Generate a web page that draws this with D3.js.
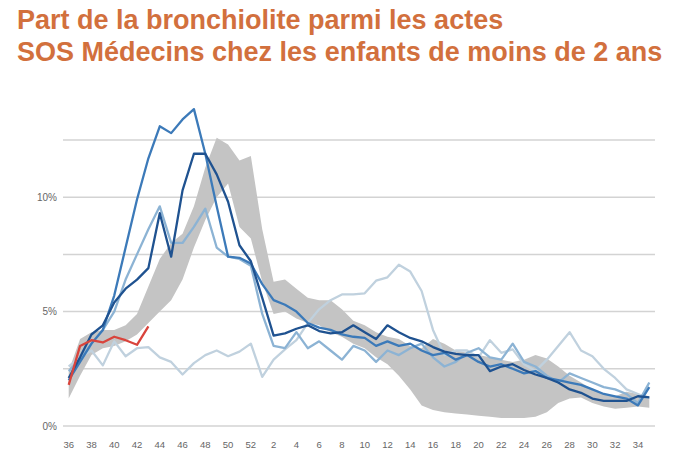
<!DOCTYPE html>
<html>
<head>
<meta charset="utf-8">
<script src="https://cdn.jsdelivr.net/npm/d3@7"></script>
<style>
  html, body { margin: 0; padding: 0; background: #ffffff; }
  svg { display: block; }
</style>
</head>
<body>
<svg id="chart" width="700" height="450"></svg>
<script>
// ---- Data ----
const titleLines = ["Part de la bronchiolite parmi les actes", "SOS Médecins chez les enfants de moins de 2 ans"];
const weeks = [36,37,38,39,40,41,42,43,44,45,46,47,48,49,50,51,52,
  1,2,3,4,5,6,7,8,9,10,11,12,13,14,15,16,17,18,19,20,21,22,23,24,25,26,27,28,29,30,31,32,33,34,35];
const weekTicks = [36,38,40,42,44,46,48,50,52,2,4,6,8,10,12,14,16,18,20,22,24,26,28,30,32,34];
const yGridValues = [0, 2.5, 5, 7.5, 10, 12.5];
const yLabelValues = [0, 5, 10];

// historical range (min / max)
const bandMax = [2.4,3.8,4.1,4.2,4.2,4.4,4.9,6.1,7.3,8.0,8.4,9.6,11.3,12.6,12.3,11.6,11.8,
  8.6,6.3,6.4,6.0,5.6,5.5,5.5,5.1,4.6,4.4,4.1,3.9,3.8,3.5,3.4,3.8,3.6,3.3,3.2,3.1,3.0,2.9,2.8,2.9,3.1,2.95,2.6,2.2,1.9,1.6,1.4,1.3,1.5,1.4,1.3];
const bandMin = [1.2,2.2,3.1,3.4,3.5,3.7,4.0,4.5,5.0,5.5,6.4,7.8,9.0,10.0,10.6,8.7,8.2,
  6.3,4.9,5.0,4.7,4.5,4.4,4.1,3.9,3.6,3.4,3.0,2.7,2.2,1.6,0.9,0.7,0.6,0.55,0.5,0.45,0.4,0.35,0.35,0.35,0.4,0.6,1.0,1.2,1.25,1.0,0.85,0.75,0.8,0.85,0.8];

const seasonPale = [2.6,3.0,3.3,2.65,3.7,3.05,3.4,3.45,3.0,2.8,2.25,2.75,3.1,3.3,3.05,3.25,3.6,
  2.15,2.9,3.35,3.75,4.5,5.1,5.5,5.75,5.75,5.8,6.35,6.5,7.05,6.75,5.9,4.2,3.1,
  3.3,3.3,3.0,3.75,3.2,3.35,2.7,2.4,2.9,3.5,4.1,3.3,3.05,2.5,2.1,1.6,1.4,1.2];
const seasonLight = [2.4,2.9,3.6,4.2,5.0,6.4,7.5,8.6,9.6,8.0,8.0,8.7,9.5,7.8,7.4,7.3,7.0,
  4.9,3.5,3.4,4.1,3.4,3.7,3.3,2.9,3.5,3.3,2.8,3.3,3.1,3.4,3.6,3.0,2.6,2.8,
  3.2,3.4,3.0,2.9,3.6,2.8,2.6,2.2,1.9,2.3,2.1,1.9,1.7,1.6,1.4,1.0,1.9];
const seasonMedium = [2.0,2.8,3.6,4.2,5.7,7.8,9.9,11.7,13.1,12.8,13.4,13.85,11.9,9.6,7.4,7.35,7.1,
  6.2,5.5,5.3,5.0,4.5,4.3,4.2,4.0,3.9,3.85,3.5,3.7,3.5,3.6,3.3,3.1,3.2,2.9,
  3.1,2.8,2.6,2.7,2.5,2.3,2.4,2.1,2.0,1.9,1.8,1.6,1.4,1.3,1.2,0.9,1.7];
const seasonDark = [2.1,3.0,4.0,4.4,5.4,6.0,6.4,6.9,9.3,7.4,10.3,11.9,11.9,11.0,9.8,7.9,7.2,
  5.6,3.95,4.05,4.25,4.4,4.15,4.05,4.1,4.4,4.1,3.8,4.4,4.1,3.85,3.7,3.45,3.25,3.15,
  3.1,3.1,2.4,2.6,2.7,2.45,2.25,2.1,1.9,1.6,1.45,1.2,1.1,1.1,1.1,1.3,1.25];
const seasonCurrent = [1.8,3.5,3.75,3.65,3.9,3.75,3.55,4.35];

// ---- Drawing ----
const svg = d3.select("#chart");

const x = d3.scalePoint().domain(weeks).range([63, 655]).padding(0.5);
const y = d3.scaleLinear().domain([0, 12.5]).range([426, 140]);

// title
svg.append("g").selectAll("text").data(titleLines).join("text")
  .attr("x", 17)
  .attr("y", (d, i) => 29 + i * 32)
  .attr("font-family", "'Liberation Sans', Arial, sans-serif")
  .attr("font-weight", "bold")
  .attr("font-size", 27)
  .attr("fill", "#d2703d")
  .text(d => d);

// gridlines
svg.append("g").selectAll("line").data(yGridValues).join("line")
  .attr("x1", 63).attr("x2", 655)
  .attr("y1", d => y(d)).attr("y2", d => y(d))
  .attr("stroke", "#d3d3d3").attr("stroke-width", 1.5);

// y labels
svg.append("g").selectAll("text").data(yLabelValues).join("text")
  .attr("x", 57)
  .attr("y", d => y(d))
  .attr("dy", "0.35em")
  .attr("text-anchor", "end")
  .attr("font-family", "'Liberation Sans', Arial, sans-serif")
  .attr("font-size", 10)
  .attr("fill", "#666")
  .text(d => d + "%");

// x labels
svg.append("g").selectAll("text").data(weekTicks).join("text")
  .attr("x", d => x(d))
  .attr("y", 448)
  .attr("text-anchor", "middle")
  .attr("font-family", "'Liberation Sans', Arial, sans-serif")
  .attr("font-size", 9.5)
  .attr("fill", "#666")
  .text(d => d);

// band
const bandData = weeks.map((w, i) => ({w, lo: bandMin[i], hi: bandMax[i]}));
svg.append("path")
  .datum(bandData)
  .attr("fill", "#c4c4c4")
  .attr("d", d3.area().x(d => x(d.w)).y0(d => y(d.lo)).y1(d => y(d.hi)));

// lines
const series = [
  {values: seasonPale, color: "#c0d1de"},
  {values: seasonLight, color: "#8cb3d4"},
  {values: seasonMedium, color: "#3c7ab9"},
  {values: seasonDark, color: "#1f5290"},
  {values: seasonCurrent, color: "#d9443c"}
];
const line = d3.line().x(d => x(d.w)).y(d => y(d.v));
svg.append("g").selectAll("path").data(series).join("path")
  .attr("fill", "none")
  .attr("stroke", d => d.color)
  .attr("stroke-width", 2.3)
  .attr("stroke-linejoin", "round")
  .attr("d", d => line(d.values.map((v, i) => ({w: weeks[i], v}))));
</script>
</body>
</html>
